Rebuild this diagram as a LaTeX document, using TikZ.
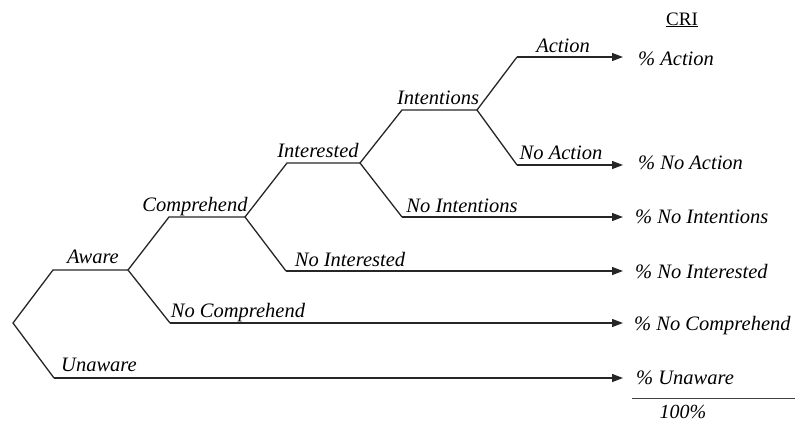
\documentclass[tikz,border=0pt]{standalone}
\usepackage{fontspec}
\setmainfont{Liberation Serif}
\usetikzlibrary{arrows.meta}
\begin{document}
\begin{tikzpicture}[x=1pt,y=-1pt,
  br/.style={line width=1.3pt,draw=black!85},
  arr/.style={br,-{Triangle[length=11pt,width=8pt]}},
  lab/.style={font=\itshape\fontsize{20.5}{22}\selectfont,inner sep=1pt,anchor=base},
  res/.style={font=\itshape\fontsize{20.5}{22}\selectfont,inner sep=0pt,anchor=base west}]
\useasboundingbox (0,0) rectangle (795,426);
% junctions
\coordinate (root) at (13,323);
\coordinate (aw0) at (53,270); \coordinate (aw1) at (128,270);
\coordinate (un) at (54,378);
\coordinate (co0) at (169,217); \coordinate (co1) at (245,217);
\coordinate (nc) at (170,323);
\coordinate (in0) at (287,163); \coordinate (in1) at (360,163);
\coordinate (ni) at (286,271);
\coordinate (it0) at (402,110); \coordinate (it1) at (477,110);
\coordinate (nit) at (402,217);
\coordinate (ac) at (517,57);
\coordinate (na) at (517,165);
% result texts
\node[res] (rAc) at (638,65) {\% Action};
\node[res] (rNa) at (638,169) {\% No Action};
\node[res] (rNit) at (635,223) {\% No Intentions};
\node[res] (rNi) at (635,278) {\% No Interested};
\node[res] (rNc) at (634,330) {\% No Comprehend};
\node[res] (rUn) at (636,384) {\% Unaware};
\coordinate (acE) at (623,57); \coordinate (naE) at (623,165);
\coordinate (nitE) at (623,217); \coordinate (niE) at (623,271);
\coordinate (ncE) at (623,323); \coordinate (unE) at (623,378);
% branches
\draw[br] (un) -- (root) -- (aw0) -- (aw1);
\draw[br] (nc) -- (aw1) -- (co0) -- (co1);
\draw[br] (ni) -- (co1) -- (in0) -- (in1);
\draw[br] (nit) -- (in1) -- (it0) -- (it1);
\draw[br] (na) -- (it1) -- (ac);
\draw[arr] (ac) -- (acE);
\draw[arr] (na) -- (naE);
\draw[arr] (nit) -- (nitE);
\draw[arr] (ni) -- (niE);
\draw[arr] (nc) -- (ncE);
\draw[arr] (un) -- (unE);
% labels
\node[lab] (lAw) at (93,263) {Aware};
\node[lab] (lUn) at (99,371) {Unaware};
\node[lab] (lCo) at (195,211) {Comprehend};
\node[lab] (lNc) at (238,317) {No Comprehend};
\node[lab] (lIn) at (318,157) {Interested};
\node[lab] (lNi) at (350,266) {No Interested};
\node[lab] (lIt) at (438,104) {Intentions};
\node[lab] (lNit) at (462,212) {No Intentions};
\node[lab] (lAc) at (563,52) {Action};
\node[lab] (lNa) at (561,159) {No Action};
% CRI and total
\node[font=\fontsize{19}{20}\selectfont,inner sep=0pt,anchor=base] (cri) at (682,25) {\underline{CRI}};
\draw[line width=1pt,draw=black!75] (632,398) -- (795,398);
\node[font=\itshape\fontsize{20}{22}\selectfont,inner sep=0pt,anchor=base] (tot) at (683,418) {100\%};
\end{tikzpicture}
\end{document}
